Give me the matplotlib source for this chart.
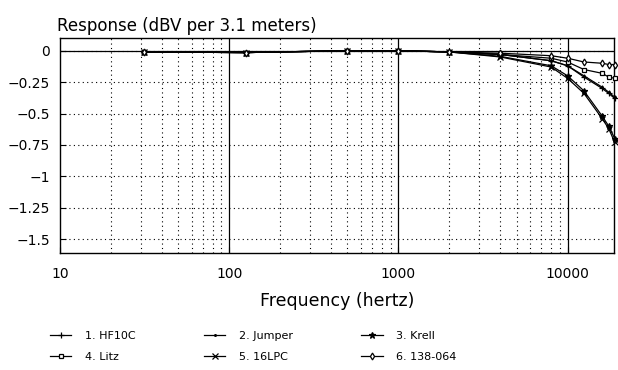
import matplotlib
matplotlib.use("Agg")
import matplotlib.pyplot as plt
from matplotlib.ticker import FixedLocator, NullFormatter, FuncFormatter

# frequencies (Hz) where the curves were measured
freqs = [31.5, 125, 500, 1000, 2000, 4000, 8000, 10000, 12500, 16000, 17500, 19000]

hf10c = [-0.01, -0.015, 0.0, 0.0, -0.01, -0.03, -0.08, -0.12, -0.21, -0.30, -0.34, -0.38]
jumper = [-0.01, -0.015, 0.0, 0.0, -0.01, -0.03, -0.08, -0.12, -0.20, -0.29, -0.33, -0.37]
krell = [-0.01, -0.015, 0.0, 0.0, -0.01, -0.045, -0.12, -0.20, -0.32, -0.52, -0.60, -0.70]
litz = [-0.01, -0.015, 0.0, 0.0, -0.01, -0.03, -0.06, -0.09, -0.15, -0.18, -0.21, -0.22]
lpc16 = [-0.01, -0.015, 0.0, 0.0, -0.01, -0.05, -0.13, -0.22, -0.34, -0.54, -0.62, -0.73]
c138 = [-0.01, -0.015, 0.0, 0.0, -0.01, -0.02, -0.04, -0.06, -0.09, -0.10, -0.11, -0.11]

labels = ["1. HF10C", "2. Jumper", "3. Krell", "4. Litz", "5. 16LPC", "6. 138-064"]
series = [hf10c, jumper, krell, litz, lpc16, c138]
markers = ["+", ".", "*", "s", "x", "d"]

yticks = [0, -0.25, -0.5, -0.75, -1, -1.25, -1.5]
xticks = [10, 100, 1000, 10000]

fig = plt.figure(figsize=(6.18, 3.70), dpi=100)
ax = fig.add_axes([0.097, 0.316, 0.8965, 0.581])

ax.set_xscale("log")
ax.set_xlim(10, 18800)
ax.set_ylim(-1.61, 0.1)

handles = []
for vals, lab, m in zip(series, labels, markers):
    ms = {"+": 5, ".": 2.5, "*": 5, "s": 3.5, "x": 4, "d": 3.5}[m]
    h, = ax.plot(freqs, vals, color="black", lw=0.9, marker=m, ms=ms,
                 mfc="white" if m in ("s", "d") else "black",
                 mec="black", mew=0.9, label=lab, clip_on=False, zorder=3)
    handles.append(h)

ax.axhline(0, color="black", lw=0.9, zorder=2)

# grid: dotted minor verticals, solid decade lines, dotted horizontals
ax.xaxis.set_major_locator(FixedLocator(xticks))
minors = [k * 10 ** d for d in range(1, 5) for k in range(2, 10)]
ax.xaxis.set_minor_locator(FixedLocator(minors))
ax.xaxis.set_minor_formatter(NullFormatter())
ax.xaxis.set_major_formatter(FuncFormatter(lambda v, p: "%d" % v))
ax.grid(True, which="minor", axis="x", color="black", ls=(0, (1, 3)), lw=0.8)
for x in xticks[1:]:
    ax.axvline(x, color="black", lw=0.9, zorder=1)

ax.set_yticks(yticks)
ax.yaxis.set_major_formatter(FuncFormatter(lambda v, p: ("%g" % v).replace("-", "\u2212")))
ax.grid(True, which="major", axis="y", color="black", ls=(0, (1, 3)), lw=0.8)

ax.tick_params(axis="both", which="major", direction="in", length=4, labelsize=10, pad=7)
ax.tick_params(axis="x", which="major", pad=10)
ax.tick_params(axis="x", which="minor", direction="in", length=0)
for s in ax.spines.values():
    s.set_linewidth(1.0)

ax.set_title("Response (dBV per 3.1 meters)", loc="left", fontsize=12, pad=5, x=-0.005)
ax.set_xlabel("Frequency (hertz)", fontsize=12.5, labelpad=8)

# legend laid out row-wise: 1 2 3 / 4 5 6
order = [0, 3, 1, 4, 2, 5]
fig.legend([handles[i] for i in order], [labels[i] for i in order],
           ncol=3, loc="lower left", bbox_to_anchor=(0.065, -0.005),
           frameon=False, fontsize=8, handlelength=1.9, columnspacing=6.2,
           labelspacing=0.95, handletextpad=1.2)

fig.savefig("out.png", dpi=100)
